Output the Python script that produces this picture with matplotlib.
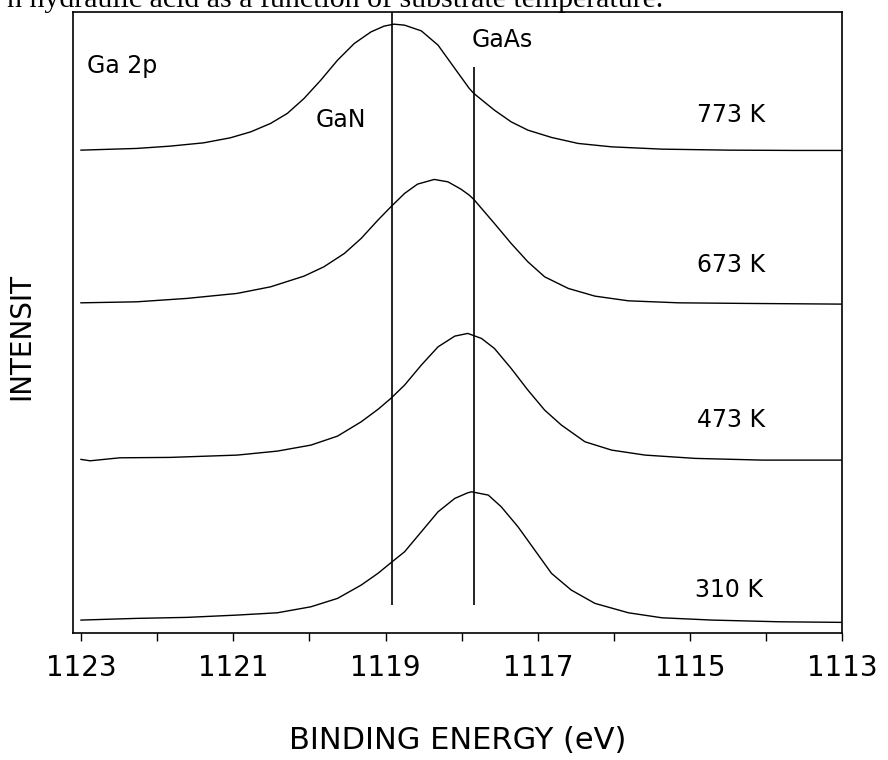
import matplotlib
matplotlib.use("Agg")
import matplotlib.pyplot as plt

# binding energy (eV) / intensity (arb. units)
e_773 = [1123.0, 1122.27, 1121.83, 1121.39, 1121.04, 1120.77, 1120.51, 1120.29, 1120.07,
         1119.85, 1119.63, 1119.41, 1119.19, 1119.02, 1118.89, 1118.75, 1118.53, 1118.31,
         1118.09, 1117.90, 1117.84, 1117.57, 1117.35, 1117.13, 1116.82, 1116.47, 1116.03,
         1115.37, 1114.49, 1113.62, 1113.0]
i_773 = [483, 484.7, 487, 490.3, 495.3, 501.3, 509.7, 519.7, 534.7,
         553, 573, 589.7, 601.3, 607, 609, 608, 602.3, 588,
         564.7, 544.7, 539.7, 523, 511.3, 503, 495.7, 489.7, 486.3,
         484, 483, 482.7, 482.7]

e_673 = [1123.0, 1122.27, 1121.61, 1120.95, 1120.51, 1120.07, 1119.81, 1119.54, 1119.32,
         1119.10, 1118.93, 1118.75, 1118.58, 1118.36, 1118.18, 1118.01, 1117.90, 1117.84,
         1117.57, 1117.35, 1117.13, 1116.91, 1116.60, 1116.25, 1115.81, 1115.15, 1114.27,
         1113.0]
i_673 = [330.3, 331.3, 334.7, 339.7, 346.3, 357, 366.3, 379.7, 394.7,
         413, 426.3, 439.7, 449, 453.7, 451.3, 444, 438, 433.7,
         409.7, 389.7, 371.3, 356.3, 344.7, 337, 332.3, 330.3, 329.7,
         329]

e_473 = [1123.0, 1122.88, 1122.49, 1121.83, 1120.95, 1120.42, 1119.98, 1119.63, 1119.32,
         1119.10, 1118.93, 1118.75, 1118.53, 1118.31, 1118.09, 1117.92, 1117.74, 1117.57,
         1117.35, 1117.13, 1116.91, 1116.69, 1116.38, 1116.03, 1115.59, 1114.93, 1114.05,
         1113.0]
i_473 = [173.7, 172.3, 175.3, 175.7, 178, 182, 188, 197, 211.3,
         223.7, 234.7, 248, 268, 286.3, 297, 299.7, 294.7, 284.7,
         264.7, 243, 223, 208, 191.3, 183, 178, 174.7, 173,
         173]

e_310 = [1123.0, 1122.27, 1121.61, 1120.95, 1120.42, 1119.98, 1119.63, 1119.32, 1119.10,
         1118.93, 1118.75, 1118.53, 1118.31, 1118.09, 1117.92, 1117.87, 1117.65, 1117.48,
         1117.26, 1117.04, 1116.82, 1116.56, 1116.25, 1115.81, 1115.37, 1114.71, 1113.83,
         1113.0]
i_310 = [13, 14.7, 15.7, 18, 20.3, 26.3, 34.7, 48, 59.7,
         70.3, 81.3, 101.3, 121.3, 134.7, 140.3, 141.3, 138, 126.3,
         106.3, 83, 59.7, 43, 29.7, 20.3, 15.3, 13, 11.3,
         10.7]

temps = ["773 K", "673 K", "473 K", "310 K"]
label_e = [1114.91, 1114.91, 1114.91, 1114.93]
label_i = [511, 361, 206, 36]

gan_e = 1118.91
gaas_e = 1117.84
tick_labels = [1123, 1121, 1119, 1117, 1115, 1113]

plt.rcParams['font.family'] = ['DejaVu Sans']
fig = plt.figure(figsize=(8.88, 7.6), dpi=100)
ax = fig.add_axes([0.0826, 0.167, 0.866, 0.817])

for e, i in [(e_773, i_773), (e_673, i_673), (e_473, i_473), (e_310, i_310)]:
    ax.plot(e, i, color='black', lw=1.0)

ax.vlines(gan_e, 28, 621, color='black', lw=1.2)
ax.vlines(gaas_e, 28, 566, color='black', lw=1.2)

for t, x, y in zip(temps, label_e, label_i):
    ax.text(x, y, t, fontsize=17, va='baseline', ha='left')
ax.text(1122.92, 560, "Ga 2p", fontsize=17, va='baseline')
ax.text(1119.92, 506, "GaN", fontsize=17, va='baseline')
ax.text(1117.87, 586, "GaAs", fontsize=17, va='baseline')

ax.set_xlim(1123.1, 1113)
ax.set_ylim(0, 621)
ax.set_xticks(range(1113, 1124))
ax.set_xticklabels([str(v) if v in tick_labels else '' for v in range(1113, 1124)])
ax.set_yticks([])
ax.tick_params(axis='x', direction='out', length=6, width=1.0, pad=9, labelsize=20)
for s in ax.spines.values():
    s.set_linewidth(1.2)

ax.set_xlabel("BINDING ENERGY (eV)", fontsize=22, labelpad=32)
ax.set_ylabel("INTENSIT", fontsize=20)
ax.yaxis.set_label_coords(-0.05, 0.477)

fig.text(663 / 888, 1 - 7 / 760, "n hydraulic acid as a function of substrate temperature.",
         family='Liberation Serif', fontsize=21.5, ha='right', va='baseline')

fig.savefig('out.png', dpi=100)
